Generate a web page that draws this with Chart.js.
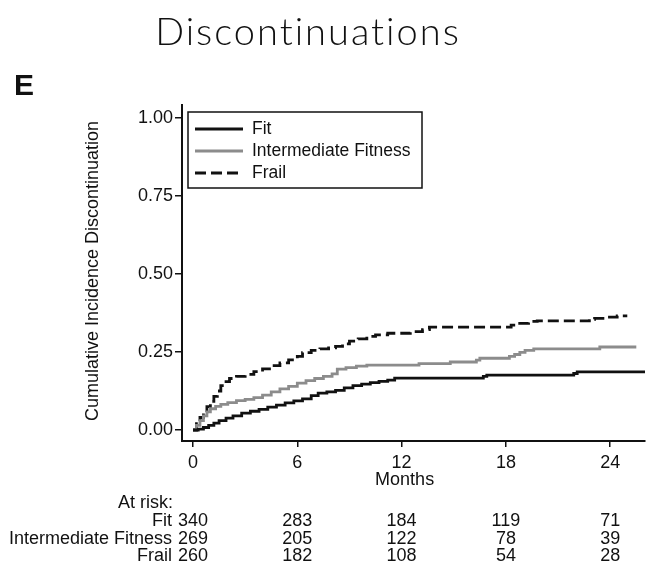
<!DOCTYPE html>
<html>
<head>
<meta charset="utf-8">
<script src="https://cdn.jsdelivr.net/npm/chart.js@4/dist/chart.umd.min.js"></script>
<style>
    body { margin: 0; background: #fff; }
    #wrap { position: relative; width: 646px; height: 568px; }
    #title {
        position: absolute; left: 0; top: 7px; width: 616px;
        text-align: center; font-family: 'Lato', sans-serif; font-weight: 300;
        font-size: 38px; letter-spacing: 2px; color: #111;
        font-variant-ligatures: none;
    }
    #panel {
        position: absolute; left: 14px; top: 68px;
        font-family: 'Liberation Sans', Arial, sans-serif; font-weight: bold;
        font-size: 30px; color: #111;
    }
    canvas { position: absolute; left: 0; top: 0; }
</style>
</head>
<body>
<div id="wrap">
    <canvas id="cifChart" width="646" height="568"></canvas>
    <div id="title">Discontinuations</div>
    <div id="panel">E</div>
</div>
<script>
// Data (months, cumulative incidence)
const fitMonths = [0, 0.3, 0.6, 0.9, 1.2, 1.5, 1.9, 2.3, 2.8, 3.3, 3.8, 4.3, 4.8, 5.3, 5.8, 6.3, 6.8, 7.2, 7.7, 8.2, 8.7, 9.2, 9.7, 10.2, 10.7, 11.2, 11.6, 16.7, 16.9, 21.9, 22.1, 26];
const fitValues = [0, 0.003, 0.008, 0.015, 0.022, 0.03, 0.038, 0.045, 0.054, 0.06, 0.066, 0.073, 0.08, 0.087, 0.093, 0.1, 0.11, 0.118, 0.122, 0.127, 0.135, 0.142, 0.147, 0.152, 0.156, 0.16, 0.166, 0.172, 0.176, 0.181, 0.186, 0.186];

const intMonths = [0, 0.2, 0.4, 0.6, 0.8, 1.0, 1.3, 1.6, 2.0, 2.5, 3.0, 3.5, 4.0, 4.5, 5.0, 5.5, 6.0, 6.5, 7.0, 7.5, 8.0, 8.3, 8.8, 9.4, 10.0, 13.0, 14.8, 16.3, 16.5, 18.2, 18.5, 18.8, 19.1, 19.6, 23.4, 25.5];
const intValues = [0, 0.015, 0.03, 0.045, 0.058, 0.068, 0.076, 0.082, 0.088, 0.094, 0.098, 0.104, 0.112, 0.122, 0.132, 0.14, 0.15, 0.158, 0.165, 0.172, 0.18, 0.195, 0.2, 0.205, 0.208, 0.213, 0.218, 0.224, 0.23, 0.236, 0.242, 0.249, 0.255, 0.26, 0.266, 0.266];

const frailMonths = [0, 0.2, 0.4, 0.6, 0.8, 1.0, 1.2, 1.4, 1.6, 1.8, 2.1, 2.5, 3.0, 3.5, 4.0, 4.5, 5.0, 5.5, 6.0, 6.3, 6.8, 7.3, 7.8, 8.2, 8.6, 9.0, 9.5, 10.0, 10.5, 11.2, 12.5, 13.2, 13.6, 18.3, 18.6, 19.3, 19.8, 22.8, 23.1, 23.8, 24.4, 24.9];
const frailValues = [0, 0.02, 0.04, 0.058, 0.075, 0.092, 0.108, 0.125, 0.142, 0.155, 0.165, 0.172, 0.178, 0.187, 0.196, 0.206, 0.215, 0.225, 0.236, 0.248, 0.255, 0.26, 0.263, 0.268, 0.276, 0.285, 0.292, 0.3, 0.305, 0.31, 0.315, 0.322, 0.33, 0.336, 0.342, 0.348, 0.35, 0.355, 0.358, 0.362, 0.366, 0.37];

// Axis ticks
const xTicks = [0, 6, 12, 18, 24];
const yTicks = [0, 0.25, 0.5, 0.75, 1];

// Numbers at risk
const riskGroups = ['Fit', 'Intermediate Fitness', 'Frail'];
const riskFit = [340, 283, 184, 119, 71];
const riskInt = [269, 205, 122, 78, 39];
const riskFrail = [260, 182, 108, 54, 28];

const FONT = "'Liberation Sans', Arial, sans-serif";
const INK = '#111';

function toPoints(xs, ys) {
    return xs.map((x, i) => ({ x: x, y: ys[i] }));
}

// Bordered legend in the upper left of the plot
const boxLegend = {
    id: 'boxLegend',
    afterDatasetsDraw(chart) {
        const ctx = chart.ctx;
        const left = 188, top = 112, right = 422, bottom = 188;
        const rows = [129, 151, 173];
        ctx.save();
        ctx.strokeStyle = INK;
        ctx.lineWidth = 1.5;
        ctx.strokeRect(left, top, right - left, bottom - top);
        ctx.font = '17.5px ' + FONT;
        ctx.fillStyle = INK;
        ctx.textBaseline = 'middle';
        chart.data.datasets.forEach((ds, i) => {
            ctx.beginPath();
            ctx.strokeStyle = ds.borderColor;
            ctx.lineWidth = ds.borderWidth;
            ctx.setLineDash(ds.borderDash || []);
            ctx.moveTo(195, rows[i]);
            ctx.lineTo(243, rows[i]);
            ctx.stroke();
            ctx.setLineDash([]);
            ctx.fillText(ds.label, 252, rows[i]);
        });
        ctx.restore();
    }
};

// Axis titles and the at-risk table, placed with the x scale
const riskTable = {
    id: 'riskTable',
    afterDraw(chart) {
        const ctx = chart.ctx;
        const xs = chart.scales.x;
        ctx.save();
        ctx.fillStyle = INK;
        ctx.font = '18px ' + FONT;
        ctx.textBaseline = 'middle';

        ctx.textAlign = 'center';
        ctx.fillText('Months', xs.getPixelForValue(12) + 3, 480);

        ctx.save();
        ctx.translate(93, 271);
        ctx.rotate(-Math.PI / 2);
        ctx.fillText('Cumulative Incidence Discontinuation', 0, 0);
        ctx.restore();

        ctx.textAlign = 'right';
        ctx.fillText('At risk:', 173, 503);
        const rows = [riskFit, riskInt, riskFrail];
        const ys = [521, 539, 556];
        rows.forEach((vals, r) => {
            ctx.textAlign = 'right';
            ctx.fillText(riskGroups[r], 172, ys[r]);
            ctx.textAlign = 'center';
            vals.forEach((v, i) => {
                ctx.fillText(String(v), xs.getPixelForValue(xTicks[i]), ys[r]);
            });
        });
        ctx.restore();
    }
};

const ctx = document.getElementById('cifChart').getContext('2d');
new Chart(ctx, {
    type: 'line',
    data: {
        datasets: [{
            label: 'Fit',
            data: toPoints(fitMonths, fitValues),
            borderColor: '#111',
            borderWidth: 2.8,
            stepped: true,
            pointRadius: 0
        }, {
            label: 'Intermediate Fitness',
            data: toPoints(intMonths, intValues),
            borderColor: '#8c8c8c',
            borderWidth: 2.8,
            stepped: true,
            pointRadius: 0
        }, {
            label: 'Frail',
            data: toPoints(frailMonths, frailValues),
            borderColor: '#111',
            borderWidth: 2.8,
            borderDash: [11, 5],
            stepped: true,
            pointRadius: 0
        }]
    },
    options: {
        responsive: false,
        animation: false,
        layout: { padding: { top: 105, right: 1, left: 0, bottom: 0 } },
        plugins: {
            legend: { display: false },
            tooltip: { enabled: false }
        },
        scales: {
            x: {
                type: 'linear',
                min: -0.633,
                max: 26.0,
                afterBuildTicks: (s) => { s.ticks = xTicks.map(v => ({ value: v })); },
                afterFit: (s) => { s.height = 127; },
                border: { display: true, color: INK, width: 2 },
                grid: { display: true, drawOnChartArea: false, drawTicks: true, tickLength: 6, color: INK, lineWidth: 1.5 },
                ticks: { color: INK, font: { family: FONT, size: 18 }, padding: 5, maxRotation: 0 }
            },
            y: {
                min: -0.0353,
                max: 1.0417,
                afterBuildTicks: (s) => { s.ticks = yTicks.map(v => ({ value: v })); },
                afterFit: (s) => { s.width = 182; },
                border: { display: true, color: INK, width: 2 },
                grid: { display: true, drawOnChartArea: false, drawTicks: true, tickLength: 7, color: INK, lineWidth: 1.5 },
                ticks: {
                    color: INK, font: { family: FONT, size: 18 }, padding: 2,
                    callback: (v) => v.toFixed(2)
                }
            }
        }
    },
    plugins: [boxLegend, riskTable]
});
</script>
</body>
</html>
